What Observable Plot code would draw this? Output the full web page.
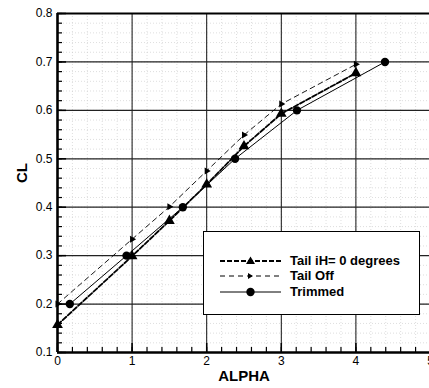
<!DOCTYPE html>
<html>
<head>
<meta charset="utf-8">
<script src="https://cdn.jsdelivr.net/npm/d3@7"></script>
<script src="https://cdn.jsdelivr.net/npm/@observablehq/plot@0.6"></script>
<style>
  html, body { margin: 0; padding: 0; background: #fff; overflow: hidden; }
  #wrap { position: relative; width: 429px; height: 388px; font-family: "Liberation Sans", Arial, sans-serif; }
  #legend {
    position: absolute; left: 203px; top: 231px; width: 217px; height: 84px;
    background: #fff; border: 1px solid #000; box-sizing: border-box;
  }
  #legend .row { position: absolute; left: 0; height: 16px; display: flex; align-items: center; }
  #legend svg { position: absolute; left: 16px; top: 0; }
  #legend span { position: absolute; left: 86px; font-size: 13px; font-weight: bold; white-space: nowrap; line-height: 16px; }
</style>
</head>
<body>
<div id="wrap"></div>
<script>
// Lift coefficient versus angle of attack
const alphaTail = [0, 1, 1.5, 2, 2.5, 3, 4];
const clTail    = [0.157, 0.299, 0.372, 0.447, 0.526, 0.593, 0.677];

const alphaOff  = [0, 1, 1.5, 2, 2.5, 3, 4];
const clOff     = [0.200, 0.334, 0.401, 0.475, 0.549, 0.613, 0.695];

const alphaTrim = [0.165, 0.925, 1.68, 2.38, 3.21, 4.39];
const clTrim    = [0.200, 0.300, 0.400, 0.500, 0.600, 0.700];

const seriesNames = ["Tail iH= 0 degrees", "Tail Off", "Trimmed"];

const xTicks = [0, 1, 2, 3, 4, 5];
const yTicks = [0.1, 0.2, 0.3, 0.4, 0.5, 0.6, 0.7, 0.8];
const xMinor = d3.range(0, 50.5, 2).map(d => d / 10);
const yMinor = d3.range(10, 80.5, 2).map(d => d / 100);

const tail = alphaTail.map((a, i) => ({alpha: a, cl: clTail[i]}));
const off  = alphaOff.map((a, i) => ({alpha: a, cl: clOff[i]}));
const trim = alphaTrim.map((a, i) => ({alpha: a, cl: clTrim[i]}));

const chart = Plot.plot({
  width: 429,
  height: 388,
  marginLeft: 57,
  marginRight: -1,
  marginTop: 13,
  marginBottom: 36,
  style: {fontFamily: "'Liberation Sans', Arial, sans-serif", fontSize: "12px", color: "#000", background: "#fff"},
  x: {domain: [0, 5], label: null},
  y: {domain: [0.1, 0.8], label: null},
  marks: [
    // faint dotted minor grid
    Plot.ruleX(xMinor, {stroke: "#c8c8c8", strokeWidth: 0.6, strokeDasharray: "1,2"}),
    Plot.ruleY(yMinor, {stroke: "#c8c8c8", strokeWidth: 0.6, strokeDasharray: "1,2"}),
    // major grid
    Plot.ruleX(xTicks, {stroke: "#111", strokeWidth: 1}),
    Plot.ruleY(yTicks, {stroke: "#222", strokeWidth: 1.2}),
    // frame
    Plot.ruleY([0.8], {stroke: "#000", strokeWidth: 2}),
    Plot.ruleX([5], {stroke: "#000", strokeWidth: 2}),
    // inward tick marks
    Plot.axisX({anchor: "bottom", ticks: xMinor, tickSize: -5, text: null, label: null, strokeWidth: 1.2}),
    Plot.axisX({anchor: "bottom", ticks: xTicks, tickSize: -9, text: null, label: null, strokeWidth: 1.5}),
    Plot.axisY({anchor: "left", ticks: yMinor, tickSize: -5, text: null, label: null, strokeWidth: 1.2}),
    Plot.axisY({anchor: "left", ticks: yTicks, tickSize: -9, text: null, label: null, strokeWidth: 1.5}),
    // tick labels
    Plot.axisX({anchor: "bottom", ticks: xTicks, tickSize: 0, tickPadding: 4, tickFormat: d3.format("d"), label: null, fontSize: 12}),
    Plot.axisY({anchor: "left", ticks: yTicks, tickSize: 0, tickPadding: 5, tickFormat: d3.format(".1f"), label: null, fontSize: 12}),
    // axis lines
    Plot.ruleX([0], {stroke: "#000", strokeWidth: 2.6}),
    Plot.ruleY([0.1], {stroke: "#000", strokeWidth: 2.6}),
    // axis titles
    Plot.text(["CL"], {frameAnchor: "left", dx: -35, rotate: -90, fontWeight: "bold", fontSize: 15, lineAnchor: "middle"}),
    Plot.text(["ALPHA"], {frameAnchor: "bottom", dy: 24, fontWeight: "bold", fontSize: 15, lineAnchor: "middle"}),
    // series
    Plot.line(off, {x: "alpha", y: "cl", stroke: "#000", strokeWidth: 0.9, strokeDasharray: "5,4"}),
    Plot.line(trim, {x: "alpha", y: "cl", stroke: "#000", strokeWidth: 1}),
    Plot.line(tail, {x: "alpha", y: "cl", stroke: "#000", strokeWidth: 1.8, strokeDasharray: "5,2"}),
    Plot.dot(off, {x: "alpha", y: "cl", symbol: "triangle", rotate: 90, r: 2.6, fill: "#000", stroke: "none"}),
    Plot.dot(trim, {x: "alpha", y: "cl", symbol: "circle", r: 4.2, fill: "#000", stroke: "none"}),
    Plot.dot(tail, {x: "alpha", y: "cl", symbol: "triangle", r: 4, fill: "#000", stroke: "none"})
  ]
});

const wrap = document.getElementById("wrap");
wrap.appendChild(chart);

// legend box inside the plot area
const legend = document.createElement("div");
legend.id = "legend";
const samples = [
  `<line x1="0" y1="8" x2="61" y2="8" stroke="#000" stroke-width="2" stroke-dasharray="5,2"/><path d="M30.5,3.5 L35,11 L26,11 Z" fill="#000"/>`,
  `<line x1="0" y1="8" x2="61" y2="8" stroke="#000" stroke-width="1" stroke-dasharray="5,4"/><path d="M28,5 L33,8 L28,11 Z" fill="#000"/>`,
  `<line x1="0" y1="8" x2="61" y2="8" stroke="#000" stroke-width="1"/><circle cx="30.5" cy="8" r="4.2" fill="#000"/>`
];
seriesNames.forEach((name, i) => {
  const row = document.createElement("div");
  row.className = "row";
  row.style.top = (21 + i * 15.4) + "px";
  row.innerHTML = `<svg width="62" height="16">${samples[i]}</svg><span>${name}</span>`;
  legend.appendChild(row);
});
wrap.appendChild(legend);
</script>
</body>
</html>
